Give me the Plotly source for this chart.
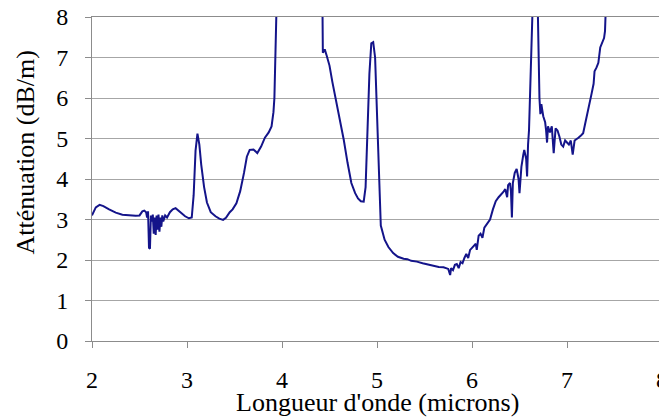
import plotly.graph_objects as go

# Valeurs (longueur d'onde en microns, atténuation en dB/m)
# les points > 8 sont hors échelle (coupés par l'axe)
longueur_onde = [
    2.00, 2.01, 2.04, 2.08, 2.12, 2.18, 2.25, 2.32, 2.40, 2.46, 2.50, 2.53, 2.55, 2.57,
    2.58, 2.59, 2.60, 2.61, 2.62, 2.63, 2.64, 2.65, 2.66, 2.67, 2.68, 2.69, 2.70, 2.71,
    2.72, 2.73, 2.74, 2.75, 2.77, 2.79, 2.82, 2.85, 2.88, 2.91, 2.95, 2.98, 3.02, 3.05,
    3.07, 3.09, 3.11, 3.13, 3.15, 3.18, 3.21, 3.25, 3.30, 3.34, 3.38, 3.41, 3.45, 3.48,
    3.52, 3.56, 3.60, 3.63, 3.66, 3.70, 3.74, 3.78, 3.82, 3.86, 3.89, 3.91, 3.92, 3.93,
    3.94, 3.96, 4.40, 4.425, 4.43, 4.45, 4.47, 4.50, 4.53, 4.56, 4.60, 4.65, 4.69, 4.73,
    4.77, 4.80, 4.83, 4.86, 4.88, 4.90, 4.92, 4.94, 4.96, 4.98, 5.00, 5.02, 5.04, 5.08,
    5.12, 5.17, 5.22, 5.28, 5.32, 5.36, 5.42, 5.48, 5.52, 5.56, 5.60, 5.65, 5.70, 5.73,
    5.75, 5.77, 5.78, 5.80, 5.82, 5.84, 5.86, 5.88, 5.90, 5.92, 5.94, 5.96, 5.98, 6.00,
    6.02, 6.04, 6.05, 6.07, 6.09, 6.11, 6.13, 6.16, 6.19, 6.22, 6.25, 6.28, 6.31, 6.33,
    6.35, 6.37, 6.38, 6.40, 6.41, 6.42, 6.43, 6.45, 6.47, 6.49, 6.50, 6.52, 6.54, 6.55,
    6.57, 6.58, 6.59, 6.60, 6.61, 6.62, 6.63, 6.66, 6.69, 6.70, 6.71, 6.72, 6.73, 6.75,
    6.77, 6.78, 6.79, 6.80, 6.82, 6.84, 6.85, 6.86, 6.88, 6.90, 6.92, 6.94, 6.96, 6.98,
    7.00, 7.02, 7.04, 7.06, 7.08, 7.10, 7.12, 7.15, 7.17, 7.19, 7.21, 7.23, 7.26, 7.28,
    7.29, 7.31, 7.33, 7.35, 7.37, 7.39, 7.40, 7.41, 7.42,
]
attenuation = [
    3.10, 3.16, 3.30, 3.36, 3.33, 3.25, 3.17, 3.12, 3.10, 3.09, 3.10, 3.20, 3.22, 3.18,
    3.05, 3.20, 2.30, 2.28, 3.10, 2.95, 3.12, 2.65, 3.05, 2.62, 3.10, 2.75, 3.12, 2.70,
    3.05, 2.82, 3.10, 2.95, 3.10, 3.05, 3.18, 3.25, 3.28, 3.22, 3.15, 3.08, 3.03, 3.05,
    3.60, 4.70, 5.12, 4.85, 4.35, 3.80, 3.42, 3.18, 3.08, 3.02, 2.99, 3.04, 3.18, 3.25,
    3.40, 3.70, 4.15, 4.55, 4.72, 4.73, 4.64, 4.80, 5.02, 5.15, 5.30, 5.65, 6.00, 7.20,
    8.50, 10.0, 10.0, 8.50, 7.12, 7.20, 7.05, 6.80, 6.40, 6.05, 5.50, 4.97, 4.40, 3.90,
    3.65, 3.52, 3.45, 3.44, 3.80, 5.20, 6.60, 7.35, 7.38, 7.00, 5.60, 3.80, 2.85, 2.50,
    2.32, 2.17, 2.08, 2.03, 2.02, 1.98, 1.96, 1.92, 1.90, 1.88, 1.85, 1.83, 1.82, 1.80,
    1.78, 1.63, 1.80, 1.75, 1.88, 1.90, 1.80, 1.95, 1.92, 2.05, 2.15, 2.05, 2.25, 2.30,
    2.35, 2.40, 2.25, 2.60, 2.65, 2.55, 2.80, 2.90, 3.00, 3.25, 3.45, 3.55, 3.62, 3.68,
    3.75, 3.55, 3.85, 3.90, 3.70, 3.05, 3.90, 4.15, 4.25, 4.00, 3.65, 4.30, 4.60, 4.72,
    4.50, 4.06, 4.85, 5.20, 6.00, 7.50, 9.00, 10.0, 8.50, 7.00, 6.00, 5.60, 5.85, 5.55,
    5.40, 5.20, 4.90, 5.30, 5.15, 5.30, 5.05, 4.64, 5.25, 5.20, 5.05, 4.85, 4.80, 4.95,
    4.90, 4.85, 4.95, 4.60, 4.95, 4.98, 5.02, 5.08, 5.13, 5.35, 5.55, 5.75, 6.12, 6.35,
    6.66, 6.75, 6.87, 7.25, 7.38, 7.48, 7.65, 8.30, 9.00,
]

x_ticks = [2, 3, 4, 5, 6, 7, 8]
y_ticks = [0, 1, 2, 3, 4, 5, 6, 7, 8]

fig = go.Figure()

fig.add_trace(go.Scatter(x=longueur_onde, y=attenuation,
                         mode='lines',
                         line=dict(color='#14148a', width=2),
                         showlegend=False))

police = 'Liberation Serif'

# la page ajoute une marge de 8 px autour de la figure : on la compense ici
fig.update_layout(width=659, height=410,
                  margin=dict(l=84, r=5, t=9, b=77),
                  paper_bgcolor='white', plot_bgcolor='white',
                  font=dict(family=police, color='black', size=24))

fig.update_xaxes(range=[2, 8], tickvals=x_ticks, automargin=False,
                 showgrid=False, zeroline=False,
                 showline=True, linecolor='#8c8c8c', linewidth=1, mirror=True,
                 ticks='outside', ticklen=6, tickcolor='#8c8c8c',
                 tickfont=dict(family=police, size=24), ticklabelstandoff=11,
                 ticklabeloverflow='allow')

fig.update_yaxes(range=[0, 8], tickvals=y_ticks, automargin=False,
                 showgrid=True, gridcolor='#a6a6a6', gridwidth=1, zeroline=False,
                 showline=True, linecolor='#8c8c8c', linewidth=1, mirror=True,
                 ticks='outside', ticklen=6, tickcolor='#8c8c8c',
                 tickfont=dict(family=police, size=24), ticklabelstandoff=12,
                 ticklabeloverflow='allow')

# Titres des axes
fig.add_annotation(text="Longueur d'onde (microns)", xref='paper', yref='paper',
                   x=0.5, y=-0.19, xanchor='center', yanchor='middle',
                   showarrow=False, font=dict(family=police, size=26))
fig.add_annotation(text='Atténuation (dB/m)', xref='paper', yref='paper',
                   x=-0.117, y=0.583, xanchor='center', yanchor='middle',
                   textangle=-90, showarrow=False, font=dict(family=police, size=26))

fig.write_html('out.html')
